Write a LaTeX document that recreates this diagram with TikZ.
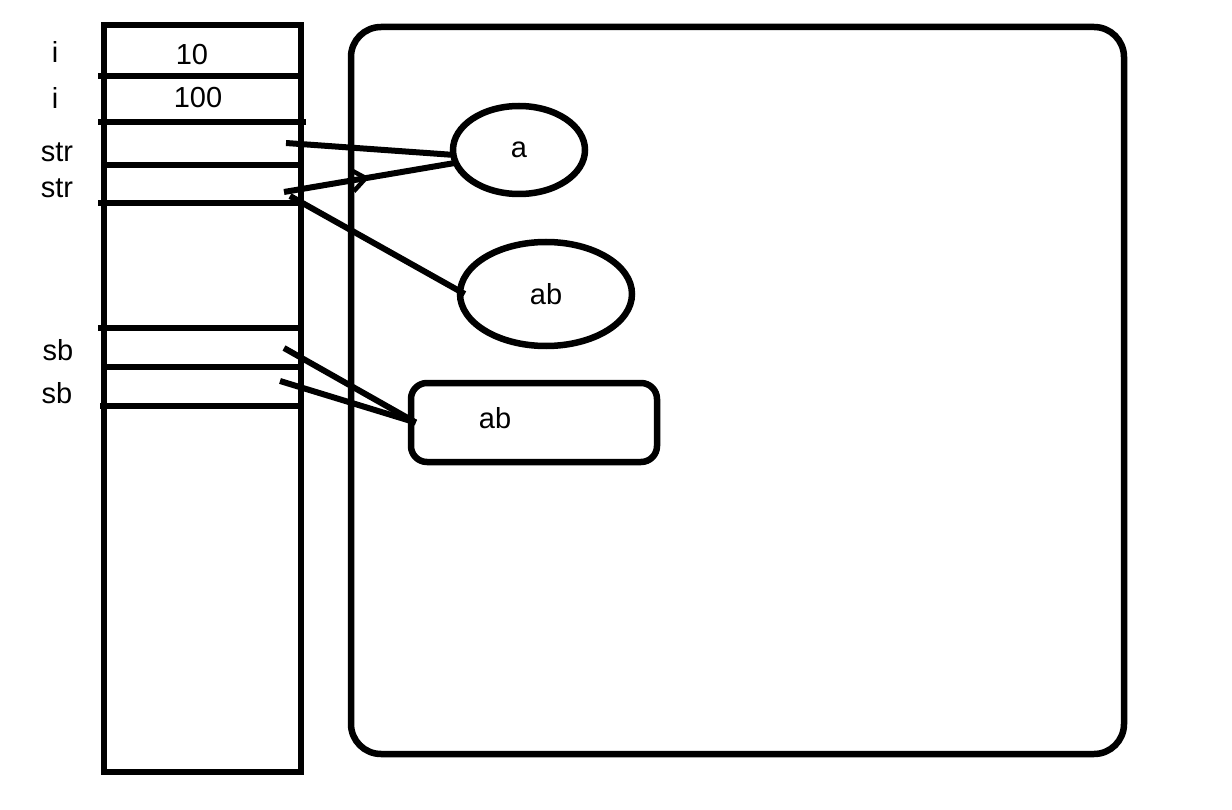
\documentclass[tikz,border=0pt]{standalone}
\usepackage{fontspec}
\setmainfont{Liberation Sans}
\usetikzlibrary{positioning,arrows.meta,shapes.geometric,decorations.markings}

\begin{document}
\begin{tikzpicture}[
  x=1pt, y=-1pt,
  thick line/.style={line width=6.5pt, draw=black},
  lab/.style={font=\fontsize{29}{33}\selectfont, inner sep=0pt, anchor=center},
  obj/.style={thick line, ellipse, inner sep=0pt},
  ref/.style={line width=6pt, draw=black},
  midarrow/.style={postaction={decorate}, decoration={markings,
      mark=at position #1 with {\arrow{Straight Barb[length=14pt,width=22pt,line width=4.5pt]}}}}]
\useasboundingbox (0,0) rectangle (1232,810);
% stack
\node[thick line, rectangle, minimum width=197pt, minimum height=747pt, inner sep=0pt] (stack) at (202.5,398.5) {};
\draw[thick line] (98,76) -- (298,76);
\draw[thick line] (98,122) -- (306,122);
\draw[thick line] (102,165) -- (298,165);
\draw[thick line] (98,203) -- (298,203);
\draw[thick line] (98,328) -- (298,328);
\draw[thick line] (102,367) -- (298,367);
\draw[thick line] (100,406) -- (304,406);
\node[lab] (n1) at (55,52) {i};
\node[lab] (n2) at (55,98) {i};
\node[lab] (n3) at (57,152) {str};
\node[lab] (n4) at (57,188) {str};
\node[lab] (n5) at (58,350) {sb};
\node[lab] (n6) at (57,393) {sb};
\node[lab] (v1) at (192,55) {10};
\node[lab] (v2) at (198,98) {100};
% heap
\node[thick line, rectangle, rounded corners=30pt, minimum width=773pt, minimum height=727pt, inner sep=0pt] (heap) at (737.5,390.5) {};
\node[obj, minimum width=132pt, minimum height=88pt] (a) at (519,150) {};
\node[lab] at (a) {a};
\node[obj, minimum width=172pt, minimum height=104pt] (ab) at (546,294) {};
\node[lab] at (ab) {ab};
\node[thick line, rectangle, rounded corners=16pt, minimum width=246pt, minimum height=79pt, inner sep=0pt] (sb) at (534,422.5) {};
\node[lab] at (495,418) {ab};
% references
\coordinate (s1) at (286,143);
\coordinate (s2) at (284,192);
\coordinate (s3) at (290,196);
\coordinate (b1) at (284,348);
\coordinate (b2) at (280,381);
\draw[ref] (s1) -- ([xshift=5pt,yshift=-5pt]a.west);
\draw[ref, midarrow=0.5] (s2) -- ([xshift=5pt,yshift=-13pt]a.west);
\draw[ref] (s3) -- ([xshift=8pt]ab.west);
\draw[ref] (b1) -- ([xshift=8pt]sb.west);
\draw[ref] (b2) -- ([xshift=8pt]sb.west);
\end{tikzpicture}
\end{document}
